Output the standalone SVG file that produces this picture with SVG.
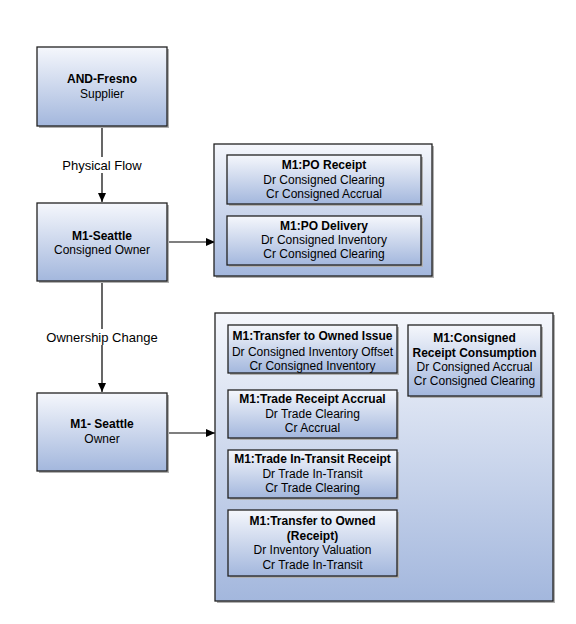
<svg xmlns="http://www.w3.org/2000/svg" width="576" height="624" viewBox="0 0 576 624">
<defs>
<linearGradient id="g" x1="0" y1="0" x2="0" y2="1">
<stop offset="0" stop-color="#f5f7fc"/>
<stop offset="1" stop-color="#a3b7dd"/>
</linearGradient>
<marker id="ah" markerWidth="10" markerHeight="10" refX="9" refY="5" orient="auto" markerUnits="userSpaceOnUse">
<path d="M0,1 L9,5 L0,9 Z" fill="#000"/>
</marker>
<style>
.box{fill:url(#g);stroke:#222;stroke-width:1.3}
.sh{fill:#b0b0b0}
text{font-family:"Liberation Sans",Arial,sans-serif;font-size:12px;fill:#000;text-anchor:middle}
.b{font-weight:bold}
.el{font-size:13px}
.conn{stroke:#000;stroke-width:1.2;fill:none}
.lbl{fill:#fff}
</style>
</defs>
<rect width="576" height="624" fill="#fff"/>
<g id="connectors">
<line class="conn" x1="102" y1="126" x2="102" y2="202" marker-end="url(#ah)"/>
<line class="conn" x1="167" y1="242" x2="215" y2="242" marker-end="url(#ah)"/>
<line class="conn" x1="102" y1="281" x2="102" y2="392" marker-end="url(#ah)"/>
<line class="conn" x1="167" y1="433" x2="215" y2="433" marker-end="url(#ah)"/>
<rect class="lbl" x="58" y="157" width="88" height="16"/>
<text class="el" x="102" y="170">Physical Flow</text>
<rect class="lbl" x="42" y="329" width="120" height="16"/>
<text class="el" x="102" y="342">Ownership Change</text>
</g>
<g id="and-fresno">
<rect class="sh" x="39" y="49" width="130" height="79"/>
<rect class="box" x="37" y="47" width="130" height="79"/>
<text class="b" x="102" y="83">AND-Fresno</text>
<text x="102" y="98">Supplier</text>
</g>
<g id="m1-seattle-consigned">
<rect class="sh" x="39" y="205" width="130" height="78"/>
<rect class="box" x="37" y="203" width="130" height="78"/>
<text class="b" x="102" y="240">M1-Seattle</text>
<text x="102" y="254">Consigned Owner</text>
</g>
<g id="m1-seattle-owner">
<rect class="sh" x="39" y="395" width="130" height="78"/>
<rect class="box" x="37" y="393" width="130" height="78"/>
<text class="b" x="102" y="428">M1- Seattle</text>
<text x="102" y="443">Owner</text>
</g>
<g id="container-consigned">
<rect class="sh" x="216" y="146" width="218" height="132"/>
<rect class="box" x="214" y="144" width="218" height="132"/>
</g>
<g id="po-receipt">
<rect class="sh" x="229" y="157" width="194" height="49"/>
<rect class="box" x="227" y="155" width="194" height="49"/>
<text class="b" x="324" y="169">M1:PO Receipt</text>
<text x="324" y="184">Dr Consigned Clearing</text>
<text x="324" y="198">Cr Consigned Accrual</text>
</g>
<g id="po-delivery">
<rect class="sh" x="229" y="218" width="194" height="49"/>
<rect class="box" x="227" y="216" width="194" height="49"/>
<text class="b" x="324" y="230">M1:PO Delivery</text>
<text x="324" y="244">Dr Consigned Inventory</text>
<text x="324" y="258">Cr Consigned Clearing</text>
</g>
<g id="container-owner">
<rect class="sh" x="217" y="315" width="338" height="288"/>
<rect class="box" x="215" y="313" width="338" height="288"/>
</g>
<g id="transfer-issue">
<rect class="sh" x="230" y="327" width="169" height="48"/>
<rect class="box" x="228" y="325" width="169" height="48"/>
<text class="b" x="312.5" y="340">M1:Transfer to Owned Issue</text>
<text x="312.5" y="356">Dr Consigned Inventory Offset</text>
<text x="312.5" y="370">Cr Consigned Inventory</text>
</g>
<g id="consumption">
<rect class="sh" x="410" y="327" width="133" height="71"/>
<rect class="box" x="408" y="325" width="133" height="71"/>
<text class="b" x="474.5" y="342">M1:Consigned</text>
<text class="b" x="474.5" y="357">Receipt Consumption</text>
<text x="474.5" y="371">Dr Consigned Accrual</text>
<text x="474.5" y="385">Cr Consigned Clearing</text>
</g>
<g id="trade-receipt-accrual">
<rect class="sh" x="230" y="392" width="169" height="48"/>
<rect class="box" x="228" y="390" width="169" height="48"/>
<text class="b" x="312.5" y="403">M1:Trade Receipt Accrual</text>
<text x="312.5" y="418">Dr Trade Clearing</text>
<text x="312.5" y="432">Cr Accrual</text>
</g>
<g id="trade-in-transit">
<rect class="sh" x="230" y="452" width="169" height="48"/>
<rect class="box" x="228" y="450" width="169" height="48"/>
<text class="b" x="312.5" y="463">M1:Trade In-Transit Receipt</text>
<text x="312.5" y="478">Dr Trade In-Transit</text>
<text x="312.5" y="492">Cr Trade Clearing</text>
</g>
<g id="transfer-receipt">
<rect class="sh" x="230" y="512" width="169" height="66"/>
<rect class="box" x="228" y="510" width="169" height="66"/>
<text class="b" x="312.5" y="525">M1:Transfer to Owned</text>
<text class="b" x="312.5" y="540">(Receipt)</text>
<text x="312.5" y="554">Dr Inventory Valuation</text>
<text x="312.5" y="569">Cr Trade In-Transit</text>
</g>
</svg>
